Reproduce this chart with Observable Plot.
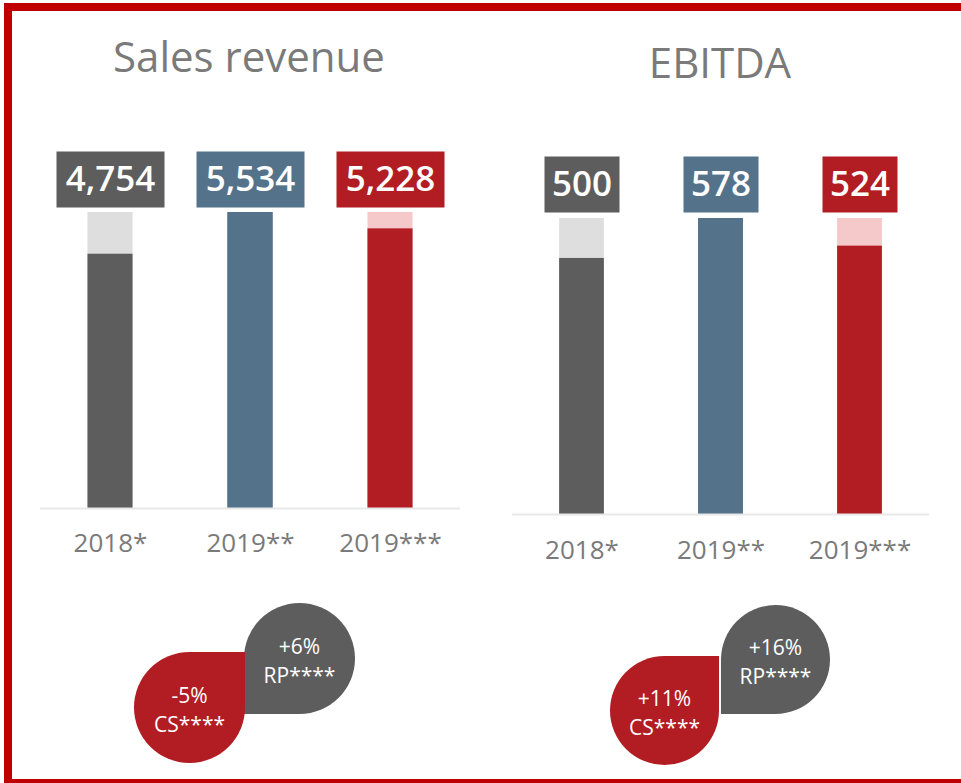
<!DOCTYPE html>
<html><head><meta charset="utf-8">
<script src="https://cdn.jsdelivr.net/npm/d3@7"></script>
<script src="https://cdn.jsdelivr.net/npm/@observablehq/plot@0.6"></script>
<style>
html,body{margin:0;padding:0;background:#fff;}
#page{position:relative;width:961px;height:783px;overflow:hidden;font-family:"Open Sans",sans-serif;background:#fff;}
.layer{position:absolute;}
.title{position:absolute;font-size:42px;color:#7a7a7a;text-align:center;white-space:nowrap;line-height:1;width:400px;}
#frame{position:absolute;left:4px;top:3px;width:1000px;height:784px;border:8px solid #c00000;box-sizing:border-box;pointer-events:none;}
</style></head>
<body><div id="page"></div>
<script>
// ---- data ----
const categories = ["2018*", "2019**", "2019***"];
const salesValues = [4754, 5534, 5228];
const ebitdaValues = [500, 578, 524];
const panelTitles = ["Sales revenue", "EBITDA"];
const changeKinds = ["CS", "RP"];
const salesChanges = ["-5%", "+6%"];
const ebitdaChanges = ["+11%", "+16%"];
const changeSuffix = "****";

// ---- styles ----
const barColors = ["#5d5d5d", "#54738b", "#b21c23"];
const ghostColors = ["#dedede", "#54738b", "#f5c8ca"];
const bubbleColors = ["#b21c23", "#5d5d5d"];
const textGray = "#7a7a7a";
const fmt = d3.format(",");

const page = document.getElementById("page");

function boxSymbol(w, h) {
  return {draw(ctx) {
    ctx.moveTo(-w / 2, -h / 2); ctx.lineTo(w / 2, -h / 2);
    ctx.lineTo(w / 2, h / 2); ctx.lineTo(-w / 2, h / 2); ctx.closePath();
  }};
}
// circle with square top-right corner
function csSymbol(r) {
  return {draw(ctx) {
    ctx.moveTo(r, 0); ctx.arc(0, 0, r, 0, 1.5 * Math.PI); ctx.lineTo(r, -r); ctx.closePath();
  }};
}
// circle with square bottom-left corner
function rpSymbol(r) {
  return {draw(ctx) {
    ctx.moveTo(-r, 0); ctx.arc(0, 0, r, Math.PI, 2.5 * Math.PI); ctx.lineTo(-r, r); ctx.closePath();
  }};
}

function barPanel(values, o) {
  const maxV = d3.max(values);
  const data = categories.map((c, i) => ({cat: c, value: values[i], ref: maxV, fill: barColors[i], ghost: ghostColors[i]}));
  const pi = 0.678;
  return Plot.plot({
    width: 480, height: 783,
    marginLeft: o.ml, marginRight: o.mr, marginTop: o.top, marginBottom: 783 - o.base,
    x: {domain: categories, paddingInner: pi, paddingOuter: pi / 2, axis: null, round: false},
    y: {domain: [0, maxV], axis: null},
    color: {type: "identity"},
    style: {background: "transparent", fontFamily: "'Open Sans', sans-serif", overflow: "visible"},
    marks: [
      Plot.barY(data, {x: "cat", y: "ref", fill: "ghost"}),
      Plot.barY(data, {x: "cat", y: "value", fill: "fill"}),
      Plot.ruleY([0], {stroke: "#e8e8e8", strokeWidth: 2}),
      Plot.dot(data, {x: "cat", y: "ref", dy: o.boxDy, symbol: boxSymbol(o.boxW, 56), fill: "fill"}),
      Plot.text(data, {x: "cat", y: "ref", dy: o.boxDy, text: d => fmt(d.value), fill: "white", fontSize: 35, fontWeight: 600}),
      Plot.text(data, {x: "cat", y: 0, dy: o.labelDy, text: "cat", fill: textGray, fontSize: 26})
    ]
  });
}

function bubblePanel(labels, o) {
  const data = changeKinds.map((k, i) => ({kind: k, label: labels[i] + "\n" + k + changeSuffix, fill: bubbleColors[i]}));
  const H = 203;
  return Plot.plot({
    width: 480, height: H,
    marginLeft: o.csX, marginRight: 480 - o.rpX, marginTop: o.rpY, marginBottom: H - o.csY,
    x: {type: "point", domain: ["CS", "RP"], padding: 0, axis: null},
    y: {type: "point", domain: ["RP", "CS"], padding: 0, axis: null},
    color: {type: "identity"},
    style: {background: "transparent", fontFamily: "'Open Sans', sans-serif", overflow: "visible"},
    marks: [
      Plot.dot(data.filter(d => d.kind === "RP"), {x: "kind", y: "kind", fill: "fill", symbol: rpSymbol(o.r)}),
      Plot.dot(data.filter(d => d.kind === "CS"), {x: "kind", y: "kind", fill: "fill", symbol: csSymbol(o.r)}),
      Plot.text(data, {x: "kind", y: "kind", dy: 1, text: "label", fill: "white", fontSize: 21, lineHeight: 1.38})
    ]
  });
}

function place(node, left, top) {
  node.classList.add("layer");
  node.style.left = left + "px";
  node.style.top = top + "px";
  page.appendChild(node);
}

place(barPanel(salesValues, {ml: 40, mr: 20, top: 212, base: 508, boxDy: -33, boxW: 108, labelDy: 35}), 0, 0);
place(barPanel(ebitdaValues, {ml: 32, mr: 31, top: 218, base: 514, boxDy: -34, boxW: 75, labelDy: 36}), 480, 0);
place(bubblePanel(salesChanges, {csX: 189, rpX: 299, rpY: 78, csY: 127, r: 55.5}), 0, 580);
place(bubblePanel(ebitdaChanges, {csX: 184, rpX: 295, rpY: 79, csY: 130, r: 54.5}), 480, 580);

const titleCenters = [[249, 35], [720, 41]];
panelTitles.forEach((t, i) => {
  const d = document.createElement("div");
  d.className = "title";
  d.textContent = t;
  d.style.left = (titleCenters[i][0] - 200) + "px";
  d.style.top = titleCenters[i][1] + "px";
  page.appendChild(d);
});

const frame = document.createElement("div");
frame.id = "frame";
page.appendChild(frame);
</script>
</body></html>
